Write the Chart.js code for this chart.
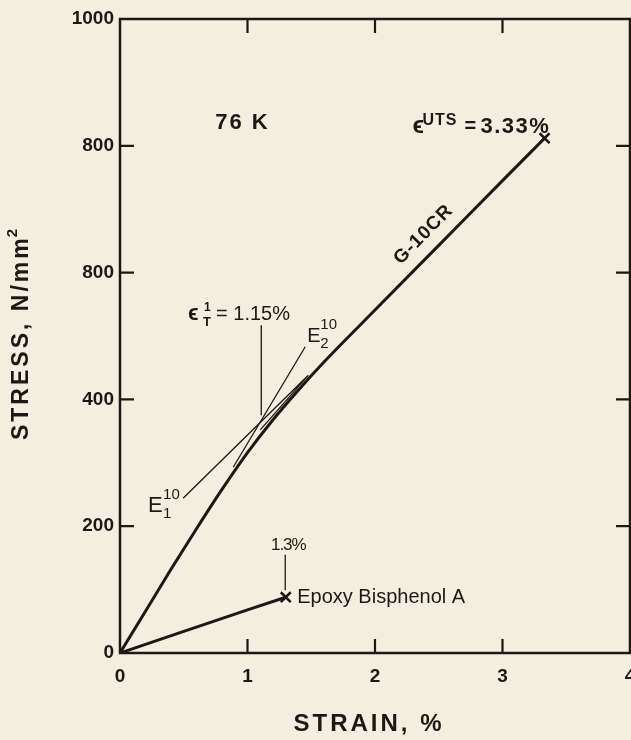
<!DOCTYPE html>
<html>
<head>
<meta charset="utf-8">
<style>
  html, body { margin: 0; background: #f3eedf; }
  canvas { display: block; }
</style>
</head>
<body>
<canvas id="grafic" width="631" height="740"></canvas>
<script src="https://cdn.jsdelivr.net/npm/chart.js@4"></script>
<script>
// values
const strainG10 = [0, 0.2, 0.4, 0.6, 0.8, 1.0, 1.2, 1.4, 1.6, 2.0, 2.5, 3.0, 3.33];
const stressG10 = [0, 66, 132, 196, 258, 316, 368, 415, 459, 541, 643, 745, 812];

const strainEpoxy = [0, 0.5, 1.0, 1.3];
const stressEpoxy = [0, 34, 68, 88];

// failure points (x marks)
const strainFail = [3.33, 1.3];
const stressFail = [812, 88];

// thin construction / leader lines
const e1LineX = [0.495, 1.477, 1.10];
const e1LineY = [244, 438, 352];
const e2LineX = [0.888, 1.453];
const e2LineY = [293, 483];
const leaderTX = [1.108, 1.108];
const leaderTY = [375, 517];
const leader13X = [1.296, 1.296];
const leader13Y = [99, 155];

const xTickVals = [0, 1, 2, 3, 4];
const xTickLabels = ['0', '1', '2', '3', '4'];
const yTickVals = [0, 200, 400, 600, 800, 1000];
const yTickLabels = ['0', '200', '400', '800', '800', '1000']; // as printed in the original

const tinta = '#1f1715';
const fons = '#f3eedf';
const lletra = "'Liberation Sans', Arial, sans-serif";

function punts(xs, ys) {
    return xs.map((x, i) => ({ x: x, y: ys[i] }));
}

function primaLinia(xs, ys) {
    return {
        data: punts(xs, ys),
        borderColor: tinta,
        borderWidth: 1.3,
        pointRadius: 0,
        tension: 0
    };
}

function textRic(ctx, x, y, parts) {
    parts.forEach(p => {
        ctx.font = p.f;
        ctx.letterSpacing = p.ls || '0px';
        ctx.fillText(p.t, x + (p.dx || 0), y + (p.dy || 0));
    });
    ctx.letterSpacing = '0px';
}

const decoracio = {
    id: 'decoracio',
    beforeDraw(chart) {
        const ctx = chart.ctx;
        ctx.save();
        ctx.fillStyle = fons;
        ctx.fillRect(0, 0, chart.width, chart.height);
        ctx.restore();
    },
    afterDraw(chart) {
        const ctx = chart.ctx;
        const a = chart.chartArea;
        const sx = chart.scales.x;
        const sy = chart.scales.y;
        const px = v => sx.getPixelForValue(v);
        const py = v => sy.getPixelForValue(v);

        ctx.save();
        ctx.strokeStyle = tinta;
        ctx.fillStyle = tinta;

        // frame
        ctx.lineWidth = 2.5;
        ctx.strokeRect(a.left, a.top, a.right - a.left, a.bottom - a.top);

        // inward ticks on all four sides
        const llarg = 14;
        ctx.lineWidth = 2.2;
        ctx.beginPath();
        xTickVals.slice(1, -1).forEach(v => {
            ctx.moveTo(px(v), a.bottom); ctx.lineTo(px(v), a.bottom - llarg);
            ctx.moveTo(px(v), a.top); ctx.lineTo(px(v), a.top + llarg);
        });
        yTickVals.slice(1, -1).forEach(v => {
            ctx.moveTo(a.left, py(v)); ctx.lineTo(a.left + llarg, py(v));
            ctx.moveTo(a.right, py(v)); ctx.lineTo(a.right - llarg, py(v));
        });
        ctx.stroke();

        // axis titles
        ctx.textAlign = 'center';
        ctx.textBaseline = 'middle';
        ctx.font = 'bold 24px ' + lletra;
        ctx.letterSpacing = '3px';
        ctx.fillText('STRAIN, %', (a.left + a.right) / 2 - 6, 724);
        ctx.save();
        ctx.translate(22, (a.top + a.bottom) / 2 - 4);
        ctx.rotate(-Math.PI / 2);
        ctx.font = 'bold 23px ' + lletra;
        const titolY = 'STRESS, N/mm';
        const w = ctx.measureText(titolY).width;
        ctx.font = 'bold 15px ' + lletra;
        const w2 = ctx.measureText('2').width;
        ctx.textAlign = 'left';
        ctx.font = 'bold 23px ' + lletra;
        ctx.fillText(titolY, -(w + w2) / 2, 0);
        ctx.font = 'bold 15px ' + lletra;
        ctx.fillText('2', -(w + w2) / 2 + w - 2, -9);
        ctx.restore();
        ctx.letterSpacing = '0px';

        // annotations
        ctx.textAlign = 'center';
        ctx.font = 'bold 22px ' + lletra;
        ctx.letterSpacing = '2px';
        ctx.fillText('76 K', px(0.96), py(836));
        ctx.letterSpacing = '0px';

        ctx.font = '17px ' + lletra;
        ctx.letterSpacing = '-1px';
        ctx.fillText('1.3%', px(1.32), py(170));
        ctx.letterSpacing = '0px';

        ctx.save();
        const ang = Math.atan2(py(745) - py(540), px(3.0) - px(2.0));
        ctx.translate(px(2.38), py(660));
        ctx.rotate(ang);
        ctx.font = 'bold 19px ' + lletra;
        ctx.letterSpacing = '1px';
        ctx.fillText('G-10CR', 0, 0);
        ctx.restore();

        ctx.textAlign = 'left';
        ctx.font = '20px ' + lletra;
        ctx.fillText('Epoxy Bisphenol A', px(1.39), py(88));

        ctx.textBaseline = 'alphabetic';
        textRic(ctx, px(2.294), py(820), [
            { t: '\u03F5', f: 'bold 24px ' + lletra },
            { t: 'UTS', f: 'bold 16px ' + lletra, dx: 10, dy: -8, ls: '1px' },
            { t: '=', f: 'bold 20px ' + lletra, dx: 52, dy: -1 },
            { t: '3.33%', f: 'bold 22px ' + lletra, dx: 68, ls: '1.5px' }
        ]);
        textRic(ctx, px(0.534), py(525), [
            { t: '\u03F5', f: 'bold 22px ' + lletra },
            { t: '1', f: 'bold 12px ' + lletra, dx: 16, dy: -9 },
            { t: 'T', f: 'bold 13px ' + lletra, dx: 15, dy: 6 },
            { t: '= 1.15%', f: '20px ' + lletra, dx: 28 }
        ]);
        textRic(ctx, px(0.22), py(222), [
            { t: 'E', f: '22px ' + lletra },
            { t: '10', f: '15px ' + lletra, dx: 15, dy: -13 },
            { t: '1', f: '15px ' + lletra, dx: 15, dy: 6 }
        ]);
        textRic(ctx, px(1.469), py(490.5), [
            { t: 'E', f: '20px ' + lletra },
            { t: '10', f: '15px ' + lletra, dx: 13, dy: -13 },
            { t: '2', f: '15px ' + lletra, dx: 13, dy: 6 }
        ]);

        ctx.restore();
    }
};

const ctx = document.getElementById('grafic').getContext('2d');

new Chart(ctx, {
    type: 'line',
    data: {
        datasets: [
            {
                label: 'G-10CR',
                data: punts(strainG10, stressG10),
                borderColor: tinta,
                borderWidth: 3,
                pointRadius: 0,
                cubicInterpolationMode: 'monotone'
            },
            {
                label: 'Epoxy Bisphenol A',
                data: punts(strainEpoxy, stressEpoxy),
                borderColor: tinta,
                borderWidth: 3,
                pointRadius: 0,
                tension: 0
            },
            {
                label: 'failure',
                data: punts(strainFail, stressFail),
                showLine: false,
                pointStyle: 'crossRot',
                pointRadius: 7,
                pointBorderWidth: 2.5,
                pointBorderColor: tinta
            },
            primaLinia(e1LineX, e1LineY),
            primaLinia(e2LineX, e2LineY),
            primaLinia(leaderTX, leaderTY),
            primaLinia(leader13X, leader13Y)
        ]
    },
    options: {
        responsive: false,
        animation: false,
        layout: { autoPadding: false, padding: { top: 19, right: 1, left: 0, bottom: 0 } },
        plugins: {
            legend: { display: false },
            tooltip: { enabled: false }
        },
        scales: {
            x: {
                type: 'linear',
                min: 0,
                max: 4,
                border: { display: false },
                grid: { display: false, drawTicks: false },
                ticks: {
                    stepSize: 1,
                    padding: 12,
                    color: tinta,
                    font: { family: lletra, size: 19, weight: 'bold' },
                    callback: (v) => xTickLabels[xTickVals.indexOf(v)]
                },
                afterFit(s) {
                    s.height = 87;
                    s.paddingLeft = 0;
                    s.paddingRight = 0;
                }
            },
            y: {
                type: 'linear',
                min: 0,
                max: 1000,
                border: { display: false },
                grid: { display: false, drawTicks: false },
                ticks: {
                    stepSize: 200,
                    padding: 6,
                    color: tinta,
                    font: { family: lletra, size: 19, weight: 'bold' },
                    callback: (v) => yTickLabels[yTickVals.indexOf(v)]
                },
                afterFit(s) {
                    s.width = 120;
                    s.paddingTop = 0;
                    s.paddingBottom = 0;
                }
            }
        }
    },
    plugins: [decoracio]
});
</script>
</body>
</html>
